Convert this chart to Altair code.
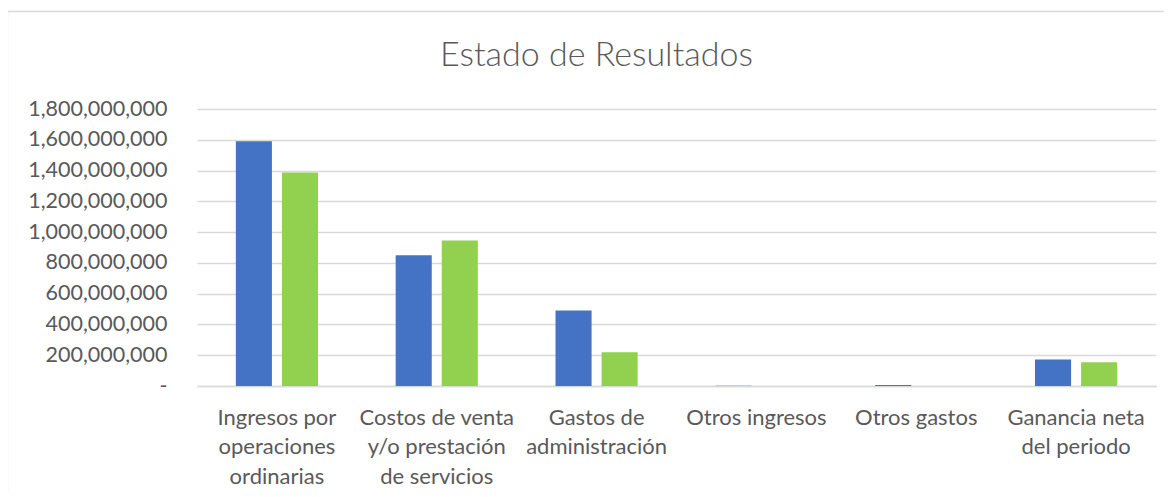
import altair as alt
import pandas as pd

categorias = [
    "Ingresos por\noperaciones\nordinarias",
    "Costos de venta\ny/o prestación\nde servicios",
    "Gastos de\nadministración",
    "Otros ingresos",
    "Otros gastos",
    "Ganancia neta\ndel periodo",
]
series = ["Periodo 1", "Periodo 2"]
valores_periodo_1 = [1590000000, 849000000, 491000000, 1000000, 6000000, 172000000]
valores_periodo_2 = [1388000000, 946000000, 220000000, 0, 0, 154000000]
ticks_y = [0, 200000000, 400000000, 600000000, 800000000, 1000000000,
           1200000000, 1400000000, 1600000000, 1800000000]
colores = ["#4472C4", "#92D050"]

rows = []
for c, v1, v2 in zip(categorias, valores_periodo_1, valores_periodo_2):
    rows.append({"categoria": c, "serie": series[0], "valor": v1})
    rows.append({"categoria": c, "serie": series[1], "valor": v2})
df = pd.DataFrame(rows)

FONT = "Lato"
GRIS = "#595959"

bars = alt.Chart(df).mark_bar().encode(
    x=alt.X(
        "categoria:N",
        sort=categorias,
        scale=alt.Scale(paddingInner=0.486, paddingOuter=0.243),
        axis=alt.Axis(
            title=None,
            labelExpr="split(datum.label, '\\n')",
            labelAngle=0,
            labelAlign="center",
            labelBaseline="top",
            labelPadding=21,
            labelLineHeight=29.5,
            labelFontSize=22,
            labelFont=FONT,
            labelColor=GRIS,
            labelLimit=400,
            ticks=False,
            domain=True,
            domainColor="#d9d9d9",
            domainWidth=1.3,
            grid=False,
        ),
    ),
    xOffset=alt.XOffset("serie:N", sort=series, scale=alt.Scale(paddingInner=0.217)),
    y=alt.Y(
        "valor:Q",
        scale=alt.Scale(domain=[0, 1800000000], nice=False),
        axis=alt.Axis(
            title=None,
            values=ticks_y,
            labelExpr="datum.value == 0 ? '-\u00a0\u00a0\u00a0' : format(datum.value, ',')",
            labelFontSize=21.5,
            labelFont=FONT,
            labelColor=GRIS,
            labelPadding=30,
            ticks=False,
            domain=False,
            gridColor="#d9d9d9",
            gridWidth=1.3,
        ),
    ),
    color=alt.Color("serie:N", sort=series,
                    scale=alt.Scale(domain=series, range=colores), legend=None),
)

border = alt.Chart(pd.DataFrame({"a": [0]})).mark_rect(
    fillOpacity=0, stroke="#d9d9d9", strokeWidth=1.3
).encode(
    x=alt.value(-189.5), x2=alt.value(1100),
    y=alt.value(-97.5), y2=alt.value(700),
)

chart = alt.layer(border, bars).properties(
    width=959,
    height=277,
    padding={"left": 189, "top": 101, "right": 8, "bottom": 106},
    autosize=alt.AutoSizeParams(type="none"),
    title=alt.TitleParams(
        text="Estado de Resultados",
        font=FONT,
        fontSize=34,
        fontWeight=300,
        color=GRIS,
        anchor="middle",
        baseline="alphabetic",
        dx=-80,
        offset=0,
        dy=89,
    ),
).configure_view(stroke=None)

chart.save("out.html", embed_options={"renderer": "svg", "actions": False})
